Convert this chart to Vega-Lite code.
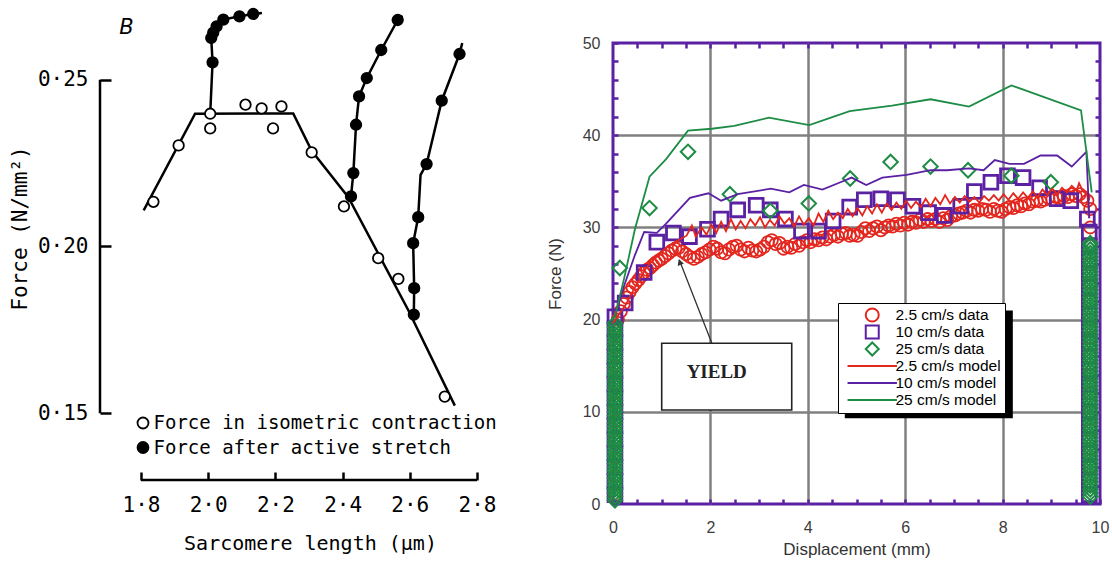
{
"$schema": "https://vega.github.io/schema/vega-lite/v6.json",
"background": "white",
"padding": {"left": 9, "top": 5, "right": 5, "bottom": 0},
"spacing": 46,
"config": {"view": {"stroke": null}},
"resolve": {"scale": {"fill": "independent", "color": "independent", "shape": "independent"}, "legend": {"fill": "independent", "color": "independent", "shape": "independent"}},
"datasets": {
"Ll": [
{"c":"iso","i":0,"x":1.808,"y":0.2108},{"c":"iso","i":1,"x":1.961,"y":0.2398},{"c":"iso","i":2,"x":2.253,"y":0.2399},{"c":"iso","i":3,"x":2.308,"y":0.2287},{"c":"iso","i":4,"x":2.417,"y":0.2148},{"c":"iso","i":5,"x":2.596,"y":0.1808},{"c":"iso","i":6,"x":2.734,"y":0.1523},
{"c":"s1","i":0,"x":2.006,"y":0.2398},{"c":"s1","i":1,"x":2.013,"y":0.2552},{"c":"s1","i":2,"x":2.009,"y":0.2625},{"c":"s1","i":3,"x":2.015,"y":0.2641},{"c":"s1","i":4,"x":2.025,"y":0.266},{"c":"s1","i":5,"x":2.045,"y":0.268},{"c":"s1","i":6,"x":2.093,"y":0.269},{"c":"s1","i":7,"x":2.134,"y":0.2697},{"c":"s1","i":8,"x":2.16,"y":0.27},
{"c":"s2","i":0,"x":2.42,"y":0.2148},{"c":"s2","i":1,"x":2.425,"y":0.215},{"c":"s2","i":2,"x":2.432,"y":0.222},{"c":"s2","i":3,"x":2.44,"y":0.2365},{"c":"s2","i":4,"x":2.449,"y":0.245},{"c":"s2","i":5,"x":2.472,"y":0.2505},{"c":"s2","i":6,"x":2.515,"y":0.2589},{"c":"s2","i":7,"x":2.564,"y":0.2679},{"c":"s2","i":8,"x":2.578,"y":0.2692},
{"c":"s3","i":0,"x":2.61,"y":0.1779},{"c":"s3","i":1,"x":2.612,"y":0.1796},{"c":"s3","i":2,"x":2.613,"y":0.1875},{"c":"s3","i":3,"x":2.61,"y":0.201},{"c":"s3","i":4,"x":2.625,"y":0.2088},{"c":"s3","i":5,"x":2.632,"y":0.2215},{"c":"s3","i":6,"x":2.65,"y":0.2247},{"c":"s3","i":7,"x":2.695,"y":0.2437},{"c":"s3","i":8,"x":2.748,"y":0.2577},{"c":"s3","i":9,"x":2.756,"y":0.261}
],
"Lp": [
{"k":"iso","x":1.837,"y":0.2134},{"k":"iso","x":1.912,"y":0.2303},{"k":"iso","x":2.006,"y":0.2398},{"k":"iso","x":2.006,"y":0.2354},{"k":"iso","x":2.111,"y":0.2425},{"k":"iso","x":2.159,"y":0.2414},{"k":"iso","x":2.218,"y":0.242},{"k":"iso","x":2.193,"y":0.2354},{"k":"iso","x":2.308,"y":0.2282},{"k":"iso","x":2.404,"y":0.212},{"k":"iso","x":2.506,"y":0.1965},{"k":"iso","x":2.566,"y":0.1903},{"k":"iso","x":2.704,"y":0.155},
{"k":"str","x":2.013,"y":0.2552},{"k":"str","x":2.009,"y":0.2625},{"k":"str","x":2.015,"y":0.2641},{"k":"str","x":2.025,"y":0.266},{"k":"str","x":2.045,"y":0.268},{"k":"str","x":2.093,"y":0.269},{"k":"str","x":2.134,"y":0.2697},
{"k":"str","x":2.425,"y":0.215},{"k":"str","x":2.432,"y":0.222},{"k":"str","x":2.44,"y":0.2365},{"k":"str","x":2.449,"y":0.245},{"k":"str","x":2.472,"y":0.2505},{"k":"str","x":2.515,"y":0.2589},{"k":"str","x":2.564,"y":0.2679},
{"k":"str","x":2.612,"y":0.1796},{"k":"str","x":2.613,"y":0.1875},{"k":"str","x":2.61,"y":0.201},{"k":"str","x":2.625,"y":0.2088},{"k":"str","x":2.65,"y":0.2247},{"k":"str","x":2.695,"y":0.2437},{"k":"str","x":2.748,"y":0.2577}
],
"R": [
{"s":"d2.5","x":0.10,"y":20.0},{"s":"d2.5","x":0.16,"y":20.9},{"s":"d2.5","x":0.22,"y":21.7},{"s":"d2.5","x":0.28,"y":22.4},{"s":"d2.5","x":0.34,"y":23.0},{"s":"d2.5","x":0.40,"y":23.5},{"s":"d2.5","x":0.46,"y":23.9},{"s":"d2.5","x":0.52,"y":24.3},{"s":"d2.5","x":0.58,"y":24.7},{"s":"d2.5","x":0.64,"y":25.1},{"s":"d2.5","x":0.70,"y":25.4},{"s":"d2.5","x":0.76,"y":25.6},{"s":"d2.5","x":0.82,"y":25.9},{"s":"d2.5","x":0.88,"y":26.2},{"s":"d2.5","x":0.94,"y":26.4},{"s":"d2.5","x":1.00,"y":26.6},{"s":"d2.5","x":1.07,"y":26.9},{"s":"d2.5","x":1.14,"y":27.2},{"s":"d2.5","x":1.21,"y":27.5},{"s":"d2.5","x":1.28,"y":27.7},{"s":"d2.5","x":1.35,"y":27.8},{"s":"d2.5","x":1.42,"y":27.4},{"s":"d2.5","x":1.50,"y":27.1},{"s":"d2.5","x":1.58,"y":26.8},{"s":"d2.5","x":1.66,"y":26.6},{"s":"d2.5","x":1.74,"y":26.8},{"s":"d2.5","x":1.82,"y":27.1},{"s":"d2.5","x":1.90,"y":27.3},{"s":"d2.5","x":1.98,"y":27.6},{"s":"d2.5","x":2.06,"y":27.9},{"s":"d2.5","x":2.14,"y":27.7},{"s":"d2.5","x":2.22,"y":27.3},{"s":"d2.5","x":2.30,"y":27.2},{"s":"d2.5","x":2.38,"y":27.6},{"s":"d2.5","x":2.46,"y":27.9},{"s":"d2.5","x":2.54,"y":28.0},{"s":"d2.5","x":2.62,"y":27.6},{"s":"d2.5","x":2.70,"y":27.4},{"s":"d2.5","x":2.78,"y":27.8},{"s":"d2.5","x":2.86,"y":27.5},{"s":"d2.5","x":2.94,"y":27.4},{"s":"d2.5","x":3.02,"y":27.6},{"s":"d2.5","x":3.10,"y":27.9},{"s":"d2.5","x":3.18,"y":28.4},{"s":"d2.5","x":3.26,"y":28.6},{"s":"d2.5","x":3.34,"y":28.2},{"s":"d2.5","x":3.42,"y":28.3},{"s":"d2.5","x":3.50,"y":27.7},{"s":"d2.5","x":3.58,"y":27.9},{"s":"d2.5","x":3.66,"y":27.8},{"s":"d2.5","x":3.74,"y":28.2},{"s":"d2.5","x":3.82,"y":28.0},{"s":"d2.5","x":3.90,"y":28.4},{"s":"d2.5","x":3.98,"y":28.6},{"s":"d2.5","x":4.06,"y":28.4},{"s":"d2.5","x":4.14,"y":28.7},{"s":"d2.5","x":4.22,"y":28.6},{"s":"d2.5","x":4.30,"y":28.9},{"s":"d2.5","x":4.38,"y":28.7},{"s":"d2.5","x":4.46,"y":29.0},{"s":"d2.5","x":4.54,"y":29.2},{"s":"d2.5","x":4.62,"y":29.0},{"s":"d2.5","x":4.70,"y":29.3},{"s":"d2.5","x":4.78,"y":29.4},{"s":"d2.5","x":4.86,"y":29.1},{"s":"d2.5","x":4.94,"y":29.2},{"s":"d2.5","x":5.02,"y":29.1},{"s":"d2.5","x":5.10,"y":29.5},{"s":"d2.5","x":5.18,"y":29.9},{"s":"d2.5","x":5.26,"y":29.6},{"s":"d2.5","x":5.34,"y":29.9},{"s":"d2.5","x":5.42,"y":30.1},{"s":"d2.5","x":5.50,"y":29.7},{"s":"d2.5","x":5.58,"y":30.0},{"s":"d2.5","x":5.66,"y":30.2},{"s":"d2.5","x":5.74,"y":30.1},{"s":"d2.5","x":5.82,"y":30.4},{"s":"d2.5","x":5.90,"y":30.2},{"s":"d2.5","x":5.98,"y":30.5},{"s":"d2.5","x":6.06,"y":30.3},{"s":"d2.5","x":6.14,"y":30.6},{"s":"d2.5","x":6.22,"y":30.5},{"s":"d2.5","x":6.30,"y":30.8},{"s":"d2.5","x":6.38,"y":30.6},{"s":"d2.5","x":6.46,"y":30.9},{"s":"d2.5","x":6.54,"y":30.7},{"s":"d2.5","x":6.62,"y":30.9},{"s":"d2.5","x":6.70,"y":30.6},{"s":"d2.5","x":6.78,"y":31.0},{"s":"d2.5","x":6.86,"y":30.8},{"s":"d2.5","x":6.94,"y":31.2},{"s":"d2.5","x":7.02,"y":31.3},{"s":"d2.5","x":7.10,"y":31.5},{"s":"d2.5","x":7.18,"y":31.6},{"s":"d2.5","x":7.26,"y":31.8},{"s":"d2.5","x":7.34,"y":31.6},{"s":"d2.5","x":7.42,"y":31.9},{"s":"d2.5","x":7.50,"y":31.8},{"s":"d2.5","x":7.58,"y":32.0},{"s":"d2.5","x":7.66,"y":31.9},{"s":"d2.5","x":7.74,"y":31.7},{"s":"d2.5","x":7.82,"y":32.0},{"s":"d2.5","x":7.90,"y":31.8},{"s":"d2.5","x":7.98,"y":31.7},{"s":"d2.5","x":8.06,"y":32.0},{"s":"d2.5","x":8.14,"y":32.2},{"s":"d2.5","x":8.22,"y":32.1},{"s":"d2.5","x":8.30,"y":32.4},{"s":"d2.5","x":8.38,"y":32.3},{"s":"d2.5","x":8.46,"y":32.6},{"s":"d2.5","x":8.54,"y":32.5},{"s":"d2.5","x":8.62,"y":32.8},{"s":"d2.5","x":8.70,"y":32.9},{"s":"d2.5","x":8.78,"y":32.8},{"s":"d2.5","x":8.86,"y":33.0},{"s":"d2.5","x":8.94,"y":33.2},{"s":"d2.5","x":9.02,"y":33.0},{"s":"d2.5","x":9.10,"y":33.3},{"s":"d2.5","x":9.18,"y":33.2},{"s":"d2.5","x":9.26,"y":33.4},{"s":"d2.5","x":9.34,"y":33.3},{"s":"d2.5","x":9.42,"y":33.6},{"s":"d2.5","x":9.50,"y":33.4},{"s":"d2.5","x":9.58,"y":33.6},{"s":"d2.5","x":9.66,"y":33.3},{"s":"d2.5","x":9.74,"y":32.9},
{"s":"d2.5","x":9.8,"y":32},{"s":"d2.5","x":9.8,"y":30},{"s":"d2.5","x":9.8,"y":28},{"s":"d2.5","x":9.8,"y":26},{"s":"d2.5","x":9.8,"y":24},{"s":"d2.5","x":9.8,"y":22},{"s":"d2.5","x":9.8,"y":20},{"s":"d2.5","x":9.8,"y":18},{"s":"d2.5","x":9.8,"y":16},{"s":"d2.5","x":9.8,"y":14},{"s":"d2.5","x":9.8,"y":12},{"s":"d2.5","x":9.8,"y":10},{"s":"d2.5","x":9.8,"y":8},{"s":"d2.5","x":9.8,"y":6},{"s":"d2.5","x":9.8,"y":4},{"s":"d2.5","x":9.8,"y":2},
{"s":"d2.5","x":0.04,"y":1},{"s":"d2.5","x":0.04,"y":3},{"s":"d2.5","x":0.04,"y":5},{"s":"d2.5","x":0.04,"y":7},{"s":"d2.5","x":0.04,"y":9},{"s":"d2.5","x":0.04,"y":11},{"s":"d2.5","x":0.04,"y":13},{"s":"d2.5","x":0.04,"y":15},{"s":"d2.5","x":0.04,"y":17},{"s":"d2.5","x":0.04,"y":19},
{"s":"d10","x":0.04,"y":20.3},{"s":"d10","x":0.25,"y":21.8},{"s":"d10","x":0.64,"y":25.1},{"s":"d10","x":0.90,"y":28.4},{"s":"d10","x":1.24,"y":29.4},{"s":"d10","x":1.57,"y":29.0},{"s":"d10","x":1.94,"y":29.8},{"s":"d10","x":2.22,"y":30.9},{"s":"d10","x":2.56,"y":31.9},{"s":"d10","x":2.94,"y":32.4},{"s":"d10","x":3.23,"y":31.9},{"s":"d10","x":3.54,"y":30.9},{"s":"d10","x":3.87,"y":29.6},{"s":"d10","x":4.22,"y":29.6},{"s":"d10","x":4.52,"y":30.7},{"s":"d10","x":4.86,"y":32.2},{"s":"d10","x":5.16,"y":33.0},{"s":"d10","x":5.50,"y":33.1},{"s":"d10","x":5.84,"y":33.0},{"s":"d10","x":6.16,"y":32.3},{"s":"d10","x":6.48,"y":31.6},{"s":"d10","x":6.80,"y":31.3},{"s":"d10","x":7.14,"y":32.3},{"s":"d10","x":7.42,"y":33.9},{"s":"d10","x":7.76,"y":34.9},{"s":"d10","x":8.10,"y":35.6},{"s":"d10","x":8.42,"y":35.4},{"s":"d10","x":8.76,"y":34.3},{"s":"d10","x":9.12,"y":33.1},{"s":"d10","x":9.40,"y":32.9},{"s":"d10","x":9.74,"y":30.9},
{"s":"d10","x":0.04,"y":1},{"s":"d10","x":0.04,"y":2.5},{"s":"d10","x":0.04,"y":4},{"s":"d10","x":0.04,"y":5.5},{"s":"d10","x":0.04,"y":7},{"s":"d10","x":0.04,"y":8.5},{"s":"d10","x":0.04,"y":10},{"s":"d10","x":0.04,"y":11.5},{"s":"d10","x":0.04,"y":13},{"s":"d10","x":0.04,"y":14.5},{"s":"d10","x":0.04,"y":16},{"s":"d10","x":0.04,"y":17.5},{"s":"d10","x":0.04,"y":19},
{"s":"d10","x":9.78,"y":1},{"s":"d10","x":9.78,"y":2.5},{"s":"d10","x":9.78,"y":4},{"s":"d10","x":9.78,"y":5.5},{"s":"d10","x":9.78,"y":7},{"s":"d10","x":9.78,"y":8.5},{"s":"d10","x":9.78,"y":10},{"s":"d10","x":9.78,"y":11.5},{"s":"d10","x":9.78,"y":13},{"s":"d10","x":9.78,"y":14.5},{"s":"d10","x":9.78,"y":16},{"s":"d10","x":9.78,"y":17.5},{"s":"d10","x":9.78,"y":19},{"s":"d10","x":9.78,"y":20.5},{"s":"d10","x":9.78,"y":22},{"s":"d10","x":9.78,"y":23.5},{"s":"d10","x":9.78,"y":25},{"s":"d10","x":9.78,"y":26.5},{"s":"d10","x":9.78,"y":28},{"s":"d10","x":9.78,"y":29.5},
{"s":"d25","x":0.14,"y":25.6},{"s":"d25","x":0.75,"y":32.1},{"s":"d25","x":1.54,"y":38.2},{"s":"d25","x":2.40,"y":33.6},{"s":"d25","x":3.23,"y":31.8},{"s":"d25","x":4.02,"y":32.6},{"s":"d25","x":4.87,"y":35.3},{"s":"d25","x":5.70,"y":37.1},{"s":"d25","x":6.52,"y":36.6},{"s":"d25","x":7.29,"y":36.2},{"s":"d25","x":8.18,"y":35.6},{"s":"d25","x":8.99,"y":34.9},{"s":"d25","x":9.80,"y":28.3},
{"s":"d25","x":0.04,"y":0.4},{"s":"d25","x":0.04,"y":0.8},{"s":"d25","x":0.04,"y":1.2},{"s":"d25","x":0.04,"y":1.6},{"s":"d25","x":0.04,"y":2.0},{"s":"d25","x":0.04,"y":2.4},{"s":"d25","x":0.04,"y":2.8},{"s":"d25","x":0.04,"y":3.2},{"s":"d25","x":0.04,"y":3.6},{"s":"d25","x":0.04,"y":4.0},{"s":"d25","x":0.04,"y":4.4},{"s":"d25","x":0.04,"y":4.8},{"s":"d25","x":0.04,"y":5.2},{"s":"d25","x":0.04,"y":5.6},{"s":"d25","x":0.04,"y":6.0},{"s":"d25","x":0.04,"y":6.4},{"s":"d25","x":0.04,"y":6.8},{"s":"d25","x":0.04,"y":7.2},{"s":"d25","x":0.04,"y":7.6},{"s":"d25","x":0.04,"y":8.0},{"s":"d25","x":0.04,"y":8.4},{"s":"d25","x":0.04,"y":8.8},{"s":"d25","x":0.04,"y":9.2},{"s":"d25","x":0.04,"y":9.6},{"s":"d25","x":0.04,"y":10.0},{"s":"d25","x":0.04,"y":10.4},{"s":"d25","x":0.04,"y":10.8},{"s":"d25","x":0.04,"y":11.2},{"s":"d25","x":0.04,"y":11.6},{"s":"d25","x":0.04,"y":12.0},{"s":"d25","x":0.04,"y":12.4},{"s":"d25","x":0.04,"y":12.8},{"s":"d25","x":0.04,"y":13.2},{"s":"d25","x":0.04,"y":13.6},{"s":"d25","x":0.04,"y":14.0},{"s":"d25","x":0.04,"y":14.4},{"s":"d25","x":0.04,"y":14.8},{"s":"d25","x":0.04,"y":15.2},{"s":"d25","x":0.04,"y":15.6},{"s":"d25","x":0.04,"y":16.0},{"s":"d25","x":0.04,"y":16.4},{"s":"d25","x":0.04,"y":16.8},{"s":"d25","x":0.04,"y":17.2},{"s":"d25","x":0.04,"y":17.6},{"s":"d25","x":0.04,"y":18.0},{"s":"d25","x":0.04,"y":18.4},{"s":"d25","x":0.04,"y":18.8},{"s":"d25","x":0.04,"y":19.2},{"s":"d25","x":0.04,"y":19.6},
{"s":"d25","x":9.8,"y":0.8},{"s":"d25","x":9.8,"y":1.2},{"s":"d25","x":9.8,"y":1.6},{"s":"d25","x":9.8,"y":2.0},{"s":"d25","x":9.8,"y":2.4},{"s":"d25","x":9.8,"y":2.8},{"s":"d25","x":9.8,"y":3.2},{"s":"d25","x":9.8,"y":3.6},{"s":"d25","x":9.8,"y":4.0},{"s":"d25","x":9.8,"y":4.4},{"s":"d25","x":9.8,"y":4.8},{"s":"d25","x":9.8,"y":5.2},{"s":"d25","x":9.8,"y":5.6},{"s":"d25","x":9.8,"y":6.0},{"s":"d25","x":9.8,"y":6.4},{"s":"d25","x":9.8,"y":6.8},{"s":"d25","x":9.8,"y":7.2},{"s":"d25","x":9.8,"y":7.6},{"s":"d25","x":9.8,"y":8.0},{"s":"d25","x":9.8,"y":8.4},{"s":"d25","x":9.8,"y":8.8},{"s":"d25","x":9.8,"y":9.2},{"s":"d25","x":9.8,"y":9.6},{"s":"d25","x":9.8,"y":10.0},{"s":"d25","x":9.8,"y":10.4},{"s":"d25","x":9.8,"y":10.8},{"s":"d25","x":9.8,"y":11.2},{"s":"d25","x":9.8,"y":11.6},{"s":"d25","x":9.8,"y":12.0},{"s":"d25","x":9.8,"y":12.4},{"s":"d25","x":9.8,"y":12.8},{"s":"d25","x":9.8,"y":13.2},{"s":"d25","x":9.8,"y":13.6},{"s":"d25","x":9.8,"y":14.0},{"s":"d25","x":9.8,"y":14.4},{"s":"d25","x":9.8,"y":14.8},{"s":"d25","x":9.8,"y":15.2},{"s":"d25","x":9.8,"y":15.6},{"s":"d25","x":9.8,"y":16.0},{"s":"d25","x":9.8,"y":16.4},{"s":"d25","x":9.8,"y":16.8},{"s":"d25","x":9.8,"y":17.2},{"s":"d25","x":9.8,"y":17.6},{"s":"d25","x":9.8,"y":18.0},{"s":"d25","x":9.8,"y":18.4},{"s":"d25","x":9.8,"y":18.8},{"s":"d25","x":9.8,"y":19.2},{"s":"d25","x":9.8,"y":19.6},{"s":"d25","x":9.8,"y":20.0},{"s":"d25","x":9.8,"y":20.4},{"s":"d25","x":9.8,"y":20.8},{"s":"d25","x":9.8,"y":21.2},{"s":"d25","x":9.8,"y":21.6},{"s":"d25","x":9.8,"y":22.0},{"s":"d25","x":9.8,"y":22.4},{"s":"d25","x":9.8,"y":22.8},{"s":"d25","x":9.8,"y":23.2},{"s":"d25","x":9.8,"y":23.6},{"s":"d25","x":9.8,"y":24.0},{"s":"d25","x":9.8,"y":24.4},{"s":"d25","x":9.8,"y":24.8},{"s":"d25","x":9.8,"y":25.2},{"s":"d25","x":9.8,"y":25.6},{"s":"d25","x":9.8,"y":26.0},{"s":"d25","x":9.8,"y":26.4},{"s":"d25","x":9.8,"y":26.8},{"s":"d25","x":9.8,"y":27.2},{"s":"d25","x":9.8,"y":27.6},{"s":"d25","x":9.8,"y":28.0}
],
"M": [
{"s":"m2.5","x":0.00,"y":19.6},{"s":"m2.5","x":0.10,"y":20.4},{"s":"m2.5","x":0.26,"y":21.6},{"s":"m2.5","x":0.45,"y":23.5},{"s":"m2.5","x":0.68,"y":25.6},{"s":"m2.5","x":0.90,"y":26.9},{"s":"m2.5","x":1.09,"y":27.8},{"s":"m2.5","x":1.30,"y":28.5},{"s":"m2.5","x":1.51,"y":29.1},{"s":"m2.5","x":1.62,"y":30.2},{"s":"m2.5","x":1.70,"y":29.0},{"s":"m2.5","x":1.82,"y":30.0},{"s":"m2.5","x":1.92,"y":29.2},{"s":"m2.5","x":2.02,"y":30.3},{"s":"m2.5","x":2.12,"y":29.4},{"s":"m2.5","x":2.22,"y":30.6},{"s":"m2.5","x":2.32,"y":29.6},{"s":"m2.5","x":2.42,"y":30.9},{"s":"m2.5","x":2.52,"y":29.8},{"s":"m2.5","x":2.62,"y":30.7},{"s":"m2.5","x":2.72,"y":29.9},{"s":"m2.5","x":2.82,"y":30.9},{"s":"m2.5","x":2.92,"y":30.2},{"s":"m2.5","x":3.02,"y":31.1},{"s":"m2.5","x":3.12,"y":30.0},{"s":"m2.5","x":3.22,"y":30.8},{"s":"m2.5","x":3.32,"y":30.2},{"s":"m2.5","x":3.42,"y":31.2},{"s":"m2.5","x":3.52,"y":30.4},{"s":"m2.5","x":3.62,"y":31.0},{"s":"m2.5","x":3.72,"y":30.1},{"s":"m2.5","x":3.82,"y":31.2},{"s":"m2.5","x":3.92,"y":30.3},{"s":"m2.5","x":4.02,"y":31.0},{"s":"m2.5","x":4.12,"y":30.2},{"s":"m2.5","x":4.22,"y":31.5},{"s":"m2.5","x":4.32,"y":30.6},{"s":"m2.5","x":4.42,"y":31.8},{"s":"m2.5","x":4.52,"y":30.9},{"s":"m2.5","x":4.62,"y":31.6},{"s":"m2.5","x":4.72,"y":31.0},{"s":"m2.5","x":4.82,"y":32.0},{"s":"m2.5","x":4.92,"y":31.2},{"s":"m2.5","x":5.02,"y":32.1},{"s":"m2.5","x":5.12,"y":31.3},{"s":"m2.5","x":5.22,"y":32.3},{"s":"m2.5","x":5.32,"y":31.5},{"s":"m2.5","x":5.42,"y":32.5},{"s":"m2.5","x":5.52,"y":31.6},{"s":"m2.5","x":5.62,"y":32.6},{"s":"m2.5","x":5.72,"y":31.9},{"s":"m2.5","x":5.82,"y":32.7},{"s":"m2.5","x":5.92,"y":32.0},{"s":"m2.5","x":6.02,"y":32.9},{"s":"m2.5","x":6.12,"y":32.1},{"s":"m2.5","x":6.22,"y":32.8},{"s":"m2.5","x":6.32,"y":32.2},{"s":"m2.5","x":6.42,"y":33.1},{"s":"m2.5","x":6.52,"y":32.3},{"s":"m2.5","x":6.62,"y":33.2},{"s":"m2.5","x":6.72,"y":32.5},{"s":"m2.5","x":6.82,"y":33.5},{"s":"m2.5","x":6.92,"y":32.6},{"s":"m2.5","x":7.02,"y":33.3},{"s":"m2.5","x":7.12,"y":32.7},{"s":"m2.5","x":7.22,"y":33.4},{"s":"m2.5","x":7.32,"y":32.8},{"s":"m2.5","x":7.42,"y":33.3},{"s":"m2.5","x":7.52,"y":32.7},{"s":"m2.5","x":7.62,"y":33.4},{"s":"m2.5","x":7.72,"y":32.9},{"s":"m2.5","x":7.82,"y":33.5},{"s":"m2.5","x":7.92,"y":32.9},{"s":"m2.5","x":8.02,"y":33.6},{"s":"m2.5","x":8.12,"y":33.0},{"s":"m2.5","x":8.22,"y":33.7},{"s":"m2.5","x":8.32,"y":33.1},{"s":"m2.5","x":8.42,"y":33.8},{"s":"m2.5","x":8.52,"y":33.2},{"s":"m2.5","x":8.62,"y":33.9},{"s":"m2.5","x":8.72,"y":33.3},{"s":"m2.5","x":8.82,"y":34.1},{"s":"m2.5","x":8.92,"y":33.5},{"s":"m2.5","x":9.02,"y":34.2},{"s":"m2.5","x":9.12,"y":33.6},{"s":"m2.5","x":9.22,"y":34.3},{"s":"m2.5","x":9.32,"y":33.8},{"s":"m2.5","x":9.42,"y":34.5},{"s":"m2.5","x":9.52,"y":34.0},{"s":"m2.5","x":9.57,"y":34.8},{"s":"m2.5","x":9.65,"y":33.9},{"s":"m2.5","x":9.74,"y":33.6},{"s":"m2.5","x":9.78,"y":31.0},
{"s":"m10","x":0.04,"y":20.3},{"s":"m10","x":0.23,"y":23.7},{"s":"m10","x":0.45,"y":27.0},{"s":"m10","x":0.64,"y":29.5},{"s":"m10","x":0.90,"y":29.4},{"s":"m10","x":1.09,"y":30.4},{"s":"m10","x":1.58,"y":33.2},{"s":"m10","x":1.96,"y":33.7},{"s":"m10","x":2.22,"y":32.9},{"s":"m10","x":2.56,"y":33.6},{"s":"m10","x":3.24,"y":34.2},{"s":"m10","x":3.62,"y":33.8},{"s":"m10","x":3.92,"y":34.6},{"s":"m10","x":4.30,"y":34.1},{"s":"m10","x":4.67,"y":34.9},{"s":"m10","x":4.90,"y":35.4},{"s":"m10","x":5.20,"y":34.6},{"s":"m10","x":5.53,"y":35.4},{"s":"m10","x":6.03,"y":35.7},{"s":"m10","x":6.52,"y":36.2},{"s":"m10","x":6.86,"y":36.2},{"s":"m10","x":7.31,"y":36.4},{"s":"m10","x":7.61,"y":36.2},{"s":"m10","x":7.84,"y":37.3},{"s":"m10","x":8.14,"y":36.9},{"s":"m10","x":8.44,"y":36.9},{"s":"m10","x":8.78,"y":37.8},{"s":"m10","x":9.12,"y":37.8},{"s":"m10","x":9.42,"y":36.6},{"s":"m10","x":9.72,"y":38.2},{"s":"m10","x":9.78,"y":31.0},
{"s":"m25","x":0.04,"y":20.3},{"s":"m25","x":0.23,"y":24.5},{"s":"m25","x":0.45,"y":29.8},{"s":"m25","x":0.75,"y":35.5},{"s":"m25","x":1.09,"y":37.4},{"s":"m25","x":1.54,"y":40.5},{"s":"m25","x":2.03,"y":40.7},{"s":"m25","x":2.49,"y":41.0},{"s":"m25","x":3.20,"y":41.9},{"s":"m25","x":4.03,"y":41.1},{"s":"m25","x":4.86,"y":42.6},{"s":"m25","x":5.73,"y":43.2},{"s":"m25","x":6.52,"y":43.9},{"s":"m25","x":7.31,"y":43.1},{"s":"m25","x":8.18,"y":45.4},{"s":"m25","x":9.61,"y":42.7},{"s":"m25","x":9.83,"y":33.8}
]
},
"hconcat": [
{
"width": 377, "height": 437,
"resolve": {"axis": {"x": "independent", "y": "independent"}},
"layer": [
{"data": {"name": "Ll"},
 "mark": {"type": "line", "color": "black", "strokeWidth": 2.5, "clip": false},
 "encoding": {
  "x": {"field": "x", "type": "quantitative", "scale": {"domain": [1.678, 2.8], "nice": false, "zero": false},
   "axis": {"orient": "bottom", "values": [1.8, 2, 2.2, 2.4, 2.6, 2.8], "labelExpr": "replace(format(datum.value, '.1f'), '.', '·')", "domain": false, "grid": false, "ticks": true, "tickSize": -8, "tickWidth": 2.5, "tickColor": "black", "labelFont": "DejaVu Sans Mono", "labelFontSize": 21, "labelColor": "black", "labelPadding": 22, "labelFlush": false, "labelOverlap": false, "title": "Sarcomere length (μm)", "titleFont": "DejaVu Sans Mono", "titleFontSize": 20, "titleFontWeight": "normal", "titleColor": "black", "titleX": 210, "titleY": 63, "titleAlign": "center", "titleBaseline": "middle"}},
  "y": {"field": "y", "type": "quantitative", "scale": {"domain": [0.13, 0.261], "nice": false, "zero": false},
   "axis": {"orient": "left", "values": [0.15, 0.2, 0.25], "labelExpr": "replace(format(datum.value, '.2f'), '.', '·')", "domain": false, "grid": false, "ticks": true, "tickSize": -11, "tickWidth": 2.5, "tickColor": "black", "labelFont": "DejaVu Sans Mono", "labelFontSize": 21, "labelColor": "black", "labelPadding": 23, "labelFlush": false, "labelOverlap": false, "title": "Force (N/mm²)", "titleFont": "DejaVu Sans Mono", "titleFontSize": 21, "titleFontWeight": "normal", "titleColor": "black", "titleX": -80, "titleY": 185, "titleAngle": -90, "titleAlign": "center", "titleBaseline": "middle"}},
  "detail": {"field": "c"},
  "order": {"field": "i", "type": "quantitative"}
 }},
{"data": {"values": [{}]},
 "mark": {"type": "rule", "color": "black", "strokeWidth": 2.5, "clip": false},
 "encoding": {"x": {"datum": 1.678, "type": "quantitative", "axis": null}, "y": {"datum": 0.15, "type": "quantitative", "axis": null}, "y2": {"datum": 0.25}}},
{"data": {"values": [{}]},
 "mark": {"type": "rule", "color": "black", "strokeWidth": 2.5, "clip": false},
 "encoding": {"x": {"datum": 1.8, "type": "quantitative", "axis": null}, "x2": {"datum": 2.8}, "y": {"datum": 0.13, "type": "quantitative", "axis": null}}},
{"data": {"name": "Lp"},
 "mark": {"type": "point", "filled": true, "shape": "circle", "size": 110, "stroke": "black", "strokeWidth": 1.8, "opacity": 1, "clip": false},
 "encoding": {
  "x": {"field": "x", "type": "quantitative", "axis": null},
  "y": {"field": "y", "type": "quantitative", "axis": null},
  "fill": {"field": "k", "type": "nominal", "scale": {"domain": ["iso", "str"], "range": ["white", "black"]},
   "legend": {"orient": "none", "legendX": 33.5, "legendY": 370.5, "title": null, "labelFont": "DejaVu Sans Mono", "labelFontSize": 19, "labelColor": "black", "labelLimit": 600, "labelOffset": 1, "rowPadding": 4.5, "padding": 0, "symbolType": "circle", "symbolSize": 120, "symbolStrokeColor": "black", "symbolStrokeWidth": 1.8, "labelExpr": "datum.value == 'iso' ? 'Force in isometric contraction' : 'Force after active stretch'"}}
 }},
{"data": {"values": [{}]},
 "mark": {"type": "text", "text": "B", "font": "DejaVu Sans", "fontStyle": "italic", "fontSize": 21, "align": "left", "baseline": "middle", "color": "black", "clip": false},
 "encoding": {"x": {"datum": 1.735, "type": "quantitative", "axis": null}, "y": {"datum": 0.2655, "type": "quantitative", "axis": null}}}
]
},
{
"width": 487, "height": 461,
"view": {"stroke": "#5b21a3", "strokeWidth": 3},
"resolve": {"axis": {"x": "independent", "y": "independent"}},
"layer": [
{"data": {"values": [{}]},
 "mark": {"type": "rect", "color": "black"},
 "encoding": {"x": {"datum": 4.76, "type": "quantitative", "axis": null, "scale": {"domain": [0, 10], "nice": false, "zero": false}}, "x2": {"datum": 8.21}, "y": {"datum": 9.3, "type": "quantitative", "axis": null, "scale": {"domain": [0, 50], "nice": false, "zero": false}}, "y2": {"datum": 21.0}}},
{"data": {"values": [{}]},
 "mark": {"type": "rect", "fill": "white", "stroke": "#222", "strokeWidth": 1.6},
 "encoding": {"x": {"datum": 1.0, "type": "quantitative", "axis": null}, "x2": {"datum": 3.67}, "y": {"datum": 10.2, "type": "quantitative", "axis": null}, "y2": {"datum": 17.43}}},
{"data": {"name": "R"},
 "transform": [{"filter": "datum.s == 'd2.5'"}],
 "mark": {"type": "point", "filled": false, "size": 150, "strokeWidth": 1.8, "opacity": 1},
 "encoding": {
  "x": {"field": "x", "type": "quantitative", "scale": {"domain": [0, 10], "nice": false, "zero": false},
   "axis": {"orient": "bottom", "values": [0,0.5,1,1.5,2,2.5,3,3.5,4,4.5,5,5.5,6,6.5,7,7.5,8,8.5,9,9.5,10], "labelExpr": "datum.value % 2 === 0 ? format(datum.value, 'd') : ''", "domain": false, "grid": true, "gridColor": "#808080", "gridWidth": 2.5, "gridOpacity": {"condition": {"test": "datum.value % 2 === 0 && datum.value > 0 && datum.value < 10", "value": 1}, "value": 0}, "ticks": true, "tickSize": -5, "tickColor": "#5b21a3", "tickWidth": 2.5, "labelFont": "Liberation Sans", "labelFontSize": 16, "labelColor": "#3c3c3c", "labelPadding": 20, "labelFlush": false, "labelOverlap": false, "title": "Displacement (mm)", "titleFont": "Liberation Sans", "titleFontSize": 17, "titleFontWeight": "normal", "titleColor": "#333333", "titlePadding": 6}},
  "y": {"field": "y", "type": "quantitative", "scale": {"domain": [0, 50], "nice": false, "zero": false},
   "axis": {"orient": "left", "values": [0,2,4,6,8,10,12,14,16,18,20,22,24,26,28,30,32,34,36,38,40,42,44,46,48,50], "labelExpr": "datum.value % 10 === 0 ? format(datum.value, 'd') : ''", "domain": false, "grid": true, "gridColor": "#808080", "gridWidth": 2.5, "gridOpacity": {"condition": {"test": "datum.value % 10 === 0 && datum.value > 0 && datum.value < 50", "value": 1}, "value": 0}, "ticks": true, "tickSize": -5, "tickColor": "#5b21a3", "tickWidth": 2.5, "labelFont": "Liberation Sans", "labelFontSize": 16, "labelColor": "#3c3c3c", "labelPadding": 18, "labelFlush": false, "labelOverlap": false, "title": "Force (N)", "titleFont": "Liberation Sans", "titleFontSize": 17, "titleFontWeight": "normal", "titleColor": "#333333", "titlePadding": 18}},
  "color": {"field": "s", "type": "nominal", "scale": {"domain": ["d2.5","d10","d25","m2.5","m10","m25"], "range": ["#e3271e","#5b21a3","#1d8c45","#e3271e","#5b21a3","#1d8c45"]},
   "legend": {"orient": "none", "legendX": 225, "legendY": 260, "title": null, "padding": 4, "fillColor": "white", "strokeColor": "black", "labelFont": "Liberation Sans", "labelFontSize": 15.5, "labelOffset": 15.5, "labelLimit": 300, "rowPadding": 0, "clipHeight": 16, "symbolSize": 169, "symbolStrokeWidth": 2, "symbolOffset": 22.5, "labelExpr": "datum.value == 'd2.5' ? '2.5 cm/s data' : datum.value == 'd10' ? '10 cm/s data' : datum.value == 'd25' ? '25 cm/s data' : datum.value == 'm2.5' ? '2.5 cm/s model' : datum.value == 'm10' ? '10 cm/s model' : '25 cm/s model'",
    "encode": {"labels": {"update": {"fill": [{"test": "datum.value == 'd2.5' || datum.value == 'm2.5'", "value": "#e3271e"}, {"test": "datum.value == 'd10' || datum.value == 'm10'", "value": "#5b21a3"}, {"value": "#1d8c45"}]}},
               "symbols": {"update": {"strokeWidth": [{"test": "datum.value == 'd10' || datum.value == 'm10'", "value": 3.2}, {"test": "datum.value == 'm2.5' || datum.value == 'm25'", "value": 2.6}, {"value": 2}]}},
               "legend": {"update": {"strokeWidth": {"value": 2.5}}}}}},
  "shape": {"field": "s", "type": "nominal", "scale": {"domain": ["d2.5","d10","d25","m2.5","m10","m25"], "range": ["circle","square","diamond","M-3.8,0H3.8","M-3.8,0H3.8","M-3.8,0H3.8"]},
   "legend": {"orient": "none", "legendX": 225, "legendY": 260, "title": null, "padding": 4, "fillColor": "white", "strokeColor": "black", "labelFont": "Liberation Sans", "labelFontSize": 15.5, "labelOffset": 15.5, "labelLimit": 300, "rowPadding": 0, "clipHeight": 16, "symbolSize": 169, "symbolStrokeWidth": 2, "symbolOffset": 22.5}}
 }},
{"data": {"name": "R"},
 "transform": [{"filter": "datum.s == 'd10'"}],
 "mark": {"type": "point", "filled": false, "size": 190, "strokeWidth": 2.8, "opacity": 1},
 "encoding": {
  "x": {"field": "x", "type": "quantitative", "axis": null},
  "y": {"field": "y", "type": "quantitative", "axis": null},
  "color": {"field": "s", "type": "nominal", "scale": {"domain": ["d2.5","d10","d25","m2.5","m10","m25"], "range": ["#e3271e","#5b21a3","#1d8c45","#e3271e","#5b21a3","#1d8c45"]}},
  "shape": {"field": "s", "type": "nominal", "scale": {"domain": ["d2.5","d10","d25","m2.5","m10","m25"], "range": ["circle","square","diamond","M-3.8,0H3.8","M-3.8,0H3.8","M-3.8,0H3.8"]}}
 }},
{"data": {"name": "R"},
 "transform": [{"filter": "datum.s == 'd25'"}],
 "mark": {"type": "point", "filled": false, "size": 210, "strokeWidth": 2, "opacity": 1},
 "encoding": {
  "x": {"field": "x", "type": "quantitative", "axis": null},
  "y": {"field": "y", "type": "quantitative", "axis": null},
  "color": {"field": "s", "type": "nominal", "scale": {"domain": ["d2.5","d10","d25","m2.5","m10","m25"], "range": ["#e3271e","#5b21a3","#1d8c45","#e3271e","#5b21a3","#1d8c45"]}},
  "shape": {"field": "s", "type": "nominal", "scale": {"domain": ["d2.5","d10","d25","m2.5","m10","m25"], "range": ["circle","square","diamond","M-3.8,0H3.8","M-3.8,0H3.8","M-3.8,0H3.8"]}}
 }},
{"data": {"name": "M"},
 "mark": {"type": "line", "strokeWidth": 1.8},
 "encoding": {
  "x": {"field": "x", "type": "quantitative",
   "axis": {"orient": "top", "values": [0.5,1,1.5,2,2.5,3,3.5,4,4.5,5,5.5,6,6.5,7,7.5,8,8.5,9,9.5], "labels": false, "domain": false, "grid": false, "ticks": true, "tickSize": -5, "tickColor": "#5b21a3", "tickWidth": 2.5, "title": null}},
  "y": {"field": "y", "type": "quantitative",
   "axis": {"orient": "right", "values": [2,4,6,8,10,12,14,16,18,20,22,24,26,28,30,32,34,36,38,40,42,44,46,48], "labels": false, "domain": false, "grid": false, "ticks": true, "tickSize": -5, "tickColor": "#5b21a3", "tickWidth": 2.5, "title": null}},
  "color": {"field": "s", "type": "nominal", "scale": {"domain": ["d2.5","d10","d25","m2.5","m10","m25"], "range": ["#e3271e","#5b21a3","#1d8c45","#e3271e","#5b21a3","#1d8c45"]}, "legend": null}
 }},
{"data": {"values": [{}]},
 "mark": {"type": "rule", "color": "#333333", "strokeWidth": 1.3},
 "encoding": {"x": {"datum": 2.03, "type": "quantitative", "axis": null}, "y": {"datum": 17.43, "type": "quantitative", "axis": null}, "x2": {"datum": 1.36}, "y2": {"datum": 26.5}}},
{"data": {"values": [{}]},
 "mark": {"type": "point", "shape": "triangle-up", "filled": true, "color": "#333333", "size": 45, "angle": 338, "opacity": 1},
 "encoding": {"x": {"datum": 1.371, "type": "quantitative", "axis": null}, "y": {"datum": 26.25, "type": "quantitative", "axis": null}}},
{"data": {"values": [{}]},
 "mark": {"type": "text", "text": "YIELD", "font": "Liberation Serif", "fontWeight": "bold", "fontSize": 19, "align": "center", "baseline": "middle", "color": "#222222"},
 "encoding": {"x": {"datum": 2.13, "type": "quantitative", "axis": null}, "y": {"datum": 14.37, "type": "quantitative", "axis": null}}}
]
}
]
}
